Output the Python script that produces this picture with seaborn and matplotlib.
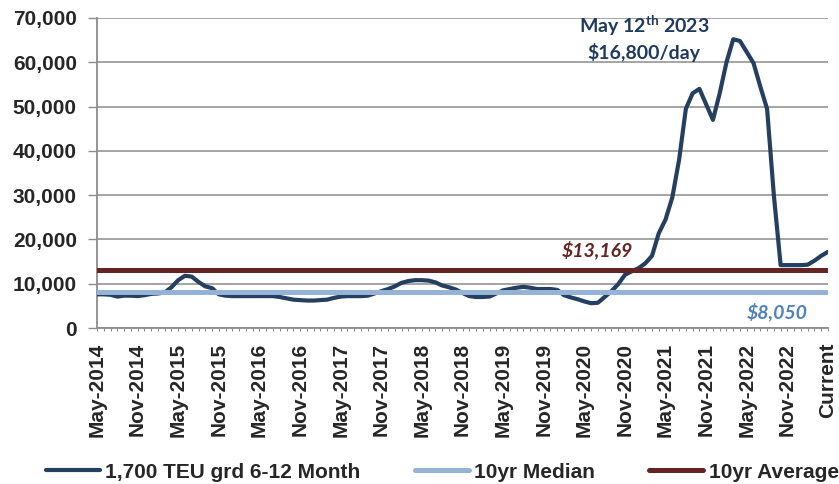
import numpy as np
import matplotlib
matplotlib.use("Agg")
from matplotlib import pyplot as plt
import seaborn as sns

# ---- data (monthly, May-2014 .. May-2023) ----
rates = [7600, 7600, 7500, 7100, 7300, 7300, 7200, 7400, 7700, 7800,
         8000, 9200, 10800, 11800, 11600, 10400, 9400, 9000, 7600, 7300,
         7200, 7200, 7200, 7200, 7200, 7200, 7200, 7000, 6700, 6400,
         6300, 6200, 6200, 6300, 6400, 6800, 7100, 7200, 7200, 7200,
         7300, 7800, 8300, 8800, 9400, 10200, 10600, 10800, 10800, 10700,
         10300, 9600, 9200, 8700, 7900, 7200, 7000, 7000, 7100, 7800,
         8500, 8800, 9100, 9300, 9100, 8800, 8800, 8800, 8600, 7400,
         6900, 6500, 6000, 5600, 5700, 7000, 8300, 9900, 12000, 12800,
         13500, 14600, 16300, 21400, 24500, 29500, 38000, 49500, 53000, 54000,
         50500, 47000, 53000, 60000, 65200, 64800, 62300, 59800, 54500, 49500,
         30000, 14200, 14200, 14200, 14200, 14300, 15200, 16300, 17200]
median_10yr = 8050
average_10yr = 13169

tick_labels = ["May-2014", "Nov-2014", "May-2015", "Nov-2015", "May-2016",
               "Nov-2016", "May-2017", "Nov-2017", "May-2018", "Nov-2018",
               "May-2019", "Nov-2019", "May-2020", "Nov-2020", "May-2021",
               "Nov-2021", "May-2022", "Nov-2022", "Current"]

series_names = ["1,700 TEU grd 6-12 Month", "10yr Median", "10yr Average"]
colors = ["#243F60", "#95B3D7", "#632523"]

# ---- style ----
sns.set_style("white")
plt.rcParams["font.family"] = ["Liberation Sans", "DejaVu Sans"]
plt.rcParams["font.weight"] = "bold"
plt.rcParams["mathtext.fontset"] = "custom"
plt.rcParams["mathtext.rm"] = "Lato:bold"
plt.rcParams["mathtext.it"] = "Lato:bold"
plt.rcParams["mathtext.bf"] = "Lato:bold"

W, H = 839, 484
fig = plt.figure(figsize=(W / 100, H / 100), dpi=100)
ax = fig.add_axes([97 / W, 1 - 328 / H, 731 / W, 310 / H])

idx = np.arange(len(rates))
n = len(rates)

sns.lineplot(x=idx, y=rates, ax=ax, color=colors[0], linewidth=3.0,
             label=series_names[0], solid_capstyle="round", zorder=3)
sns.lineplot(x=idx, y=[median_10yr] * n, ax=ax, color=colors[1], linewidth=3.6,
             label=series_names[1], solid_capstyle="round", zorder=4)
sns.lineplot(x=idx, y=[average_10yr] * n, ax=ax, color=colors[2], linewidth=3.6,
             label=series_names[2], solid_capstyle="round", zorder=5)

# ---- axes ----
ax.set_xlim(0, n - 1)
ax.set_ylim(0, 70000)
ax.set_yticks(np.arange(0, 70001, 10000))
ax.set_yticklabels([f"{v:,}" for v in range(0, 70001, 10000)], fontsize=15, fontweight="bold")
ax.yaxis.grid(True, color="#8c8c8c", linewidth=1.1)
ax.set_axisbelow(True)

xt = list(range(0, n, 1))
lbl = [""] * n
for k, t in enumerate(tick_labels[:-1]):
    lbl[k * 6] = t
lbl[n - 1] = tick_labels[-1]
ax.set_xticks(xt)
ax.set_xticklabels(lbl, rotation=90, fontsize=15, fontweight="bold")

ax.tick_params(axis="y", direction="out", length=6.5, width=1, color="#8c8c8c", pad=8, left=True)
ax.tick_params(axis="x", direction="out", length=2.5, width=0.8, color="#8c8c8c", pad=8, bottom=True)
for s in ["top", "right"]:
    ax.spines[s].set_visible(False)
for s in ["left", "bottom"]:
    ax.spines[s].set_color("#8c8c8c")
    ax.spines[s].set_linewidth(1.3)
ax.set_xlabel("")
ax.set_ylabel("")

# ---- annotations ----
fig.text(644 / W, 1 - 26 / H, "May 12$^{\\mathrm{th}}$ 2023", ha="center", va="center",
         fontsize=14, family="Lato", fontweight="bold", color="#1F3A5F")
fig.text(644 / W, 1 - 52 / H, "$16,800/day", ha="center", va="center",
         fontsize=14, family="Lato", fontweight="bold", color="#1F3A5F")
fig.text(597 / W, 1 - 250 / H, "$13,169", ha="center", va="center",
         fontsize=14, family="Lato", fontweight="bold", style="italic", color=colors[2])
fig.text(777 / W, 1 - 312 / H, "$8,050", ha="center", va="center",
         fontsize=14, family="Lato", fontweight="bold", style="italic", color="#4F81BD")

# ---- legend ----
ax.get_legend().remove()
handles, labels = ax.get_legend_handles_labels()
fig.legend(handles, labels, loc="center left", bbox_to_anchor=(46 / W, 1 - 472 / H),
           ncol=3, frameon=False, handlelength=2.6, handletextpad=0.25,
           columnspacing=2.6, borderpad=0, borderaxespad=0,
           prop={"weight": "bold", "size": 15})

fig.savefig("out.png", dpi=100)
